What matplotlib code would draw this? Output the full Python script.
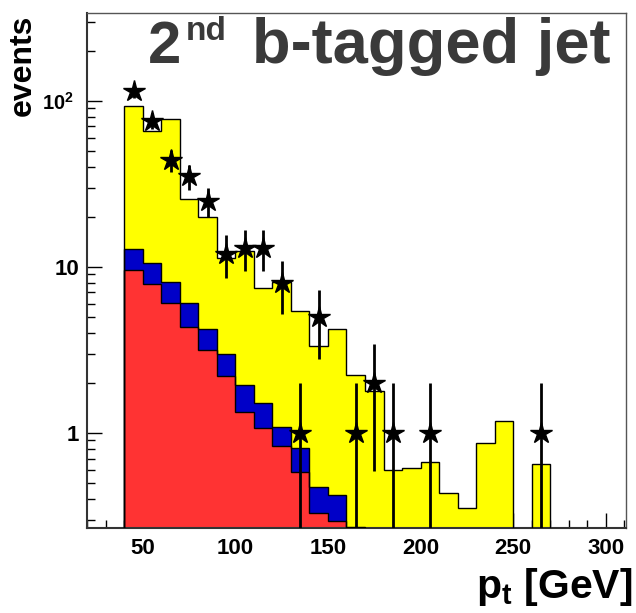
import numpy as np
import matplotlib
matplotlib.use('Agg')
import matplotlib.pyplot as plt
import matplotlib.transforms as mtransforms
from matplotlib.ticker import FixedLocator, NullFormatter, MultipleLocator, LogLocator

plt.rcParams['font.family'] = ['Liberation Sans', 'DejaVu Sans']
plt.rcParams['font.weight'] = 'bold'
plt.rcParams['mathtext.fontset'] = 'custom'
plt.rcParams['mathtext.rm'] = 'Liberation Sans:bold'
plt.rcParams['mathtext.bf'] = 'Liberation Sans:bold'
plt.rcParams['mathtext.it'] = 'Liberation Sans:bold'

# 10 GeV bins from 40 to 270
edges = np.arange(40, 280, 10)

# stacked levels (each already includes the ones below it)
stack_top = [93, 65.3, 77.6, 25.6, 19.9, 11.3, 12.5, 7.5, 8.15, 5.45, 3.34, 4.21,
             2.23, 1.79, 0.598, 0.615, 0.666, 0.433, 0.352, 0.874, 1.17, 0, 0.648]
stack_mid = [12.8, 10.5, 8.12, 6.04, 4.21, 2.99, 1.93, 1.51, 1.09, 0.815, 0.473, 0.423,
             0.27, 0, 0, 0, 0, 0, 0, 0, 0, 0, 0]
stack_low = [9.5, 7.85, 6.04, 4.35, 3.16, 2.21, 1.33, 1.07, 0.83, 0.577, 0.328, 0.294,
             0, 0, 0, 0, 0, 0, 0, 0, 0, 0, 0]

# observed events
data_x = [45, 55, 65, 75, 85, 95, 105, 115, 125, 135, 145, 165, 175, 185, 205, 265]
data_n = [114, 76, 44, 35, 25, 12, 13, 13, 8, 1, 5, 1, 2, 1, 1, 1]

W, H = 636, 613
fig = plt.figure(figsize=(W / 100, H / 100), dpi=100)
ax = fig.add_axes([0.1373, 0.1382, 0.9843 - 0.1373, 0.9796 - 0.1382])
ax.set_yscale('log')

base = 1e-3
for vals, col in [(stack_top, '#ffff00'), (stack_mid, '#0000c8'), (stack_low, '#ff3333')]:
    v = np.array(vals, dtype=float)
    ax.stairs(v, edges, fill=True, color=col, baseline=base, zorder=2)
    ax.stairs(v, edges, color='black', linewidth=1.0, baseline=base, zorder=3)

n = np.array(data_n, dtype=float)
err = np.sqrt(n)
ax.errorbar(data_x, n, yerr=err, fmt='none', ecolor='black', elinewidth=2.0,
            capsize=0, zorder=4)
ax.plot(data_x, n, linestyle='none', marker='*', markersize=16, color='black',
        markeredgecolor='black', zorder=5)

ax.set_xlim(20, 311)
ax.set_ylim(0.266, 340)

ax.xaxis.set_major_locator(MultipleLocator(50))
ax.xaxis.set_minor_locator(MultipleLocator(10))
ax.yaxis.set_major_locator(FixedLocator([1, 10, 100]))
ax.set_yticklabels(['1', '10', r'10$^{2}$'])
ax.yaxis.set_minor_locator(LogLocator(base=10, subs=np.arange(2, 10)))
ax.yaxis.set_minor_formatter(NullFormatter())

ax.tick_params(which='both', direction='in', top=False, right=False)
ax.tick_params(which='major', length=11, width=1.0)
ax.tick_params(which='minor', length=6, width=1.0)
ax.tick_params(axis='x', labelsize=16, pad=7)
ax.tick_params(axis='y', labelsize=16, pad=6)
for lab in ax.get_xticklabels() + ax.get_yticklabels():
    lab.set_fontweight('bold')
# the 10^2 label is a bit smaller and sits further from the axis
lab100 = ax.get_yticklabels()[2]
lab100.set_fontsize(14.5)
lab100.set_transform(lab100.get_transform() +
                     mtransforms.ScaledTranslation(-5 / 100, 0, fig.dpi_scale_trans))

for side in ['left', 'bottom']:
    ax.spines[side].set_linewidth(1.5)
    ax.spines[side].set_color('#333333')
for side in ['top', 'right']:
    ax.spines[side].set_linewidth(1.0)
    ax.spines[side].set_color('#555555')

# title, built from pieces so the superscript can be sized freely
title_col = '#3a3a3a'
fig.text(148 / W, 1 - 63 / H, '2', ha='left', va='baseline',
         fontsize=43, fontweight='bold', color=title_col)
fig.text(186 / W, 1 - 40 / H, 'nd', ha='left', va='baseline',
         fontsize=24, fontweight='bold', color=title_col)
fig.text(611 / W, 1 - 63 / H, 'b-tagged jet', ha='right', va='baseline',
         fontsize=45.5, fontweight='bold', color=title_col)

fig.text(0.994, 0.0245, r'p$_{\mathrm{t}}$ [GeV]', ha='right', va='baseline',
         fontsize=29.5, fontweight='bold')
fig.text(23 / W, 1 - 15 / H, 'events', rotation=90, ha='center', va='top',
         fontsize=23, fontweight='bold')

fig.savefig('out.png', dpi=100)
